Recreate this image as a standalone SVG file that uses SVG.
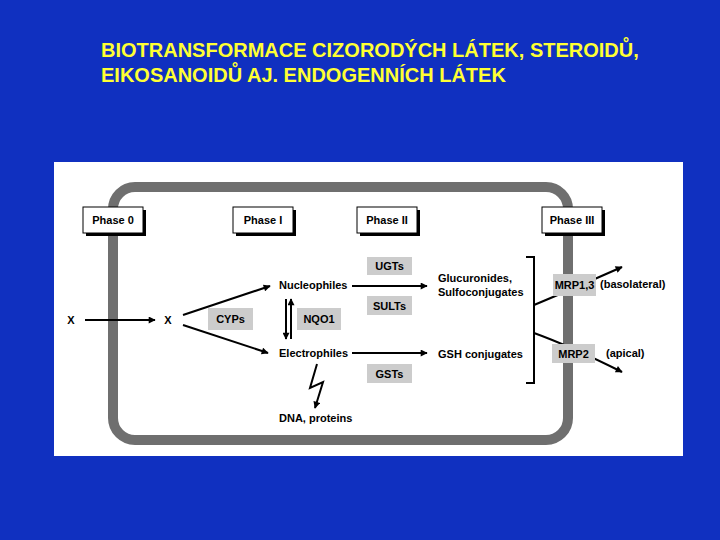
<svg xmlns="http://www.w3.org/2000/svg" width="720" height="540" viewBox="0 0 720 540">
<defs>
<marker id="ah" viewBox="0 0 10 10" refX="9" refY="5" markerWidth="8" markerHeight="7" markerUnits="userSpaceOnUse" orient="auto">
<path d="M0,0 L10,5 L0,10 z" fill="#000"/>
</marker>
<style>
.title{font-family:"Liberation Sans",Arial,sans-serif;font-weight:bold;font-size:20px;fill:#ffff33}
.t{font-family:"Liberation Sans",Arial,sans-serif;font-weight:bold;font-size:11px;fill:#000}
.c{text-anchor:middle}
.ph{fill:#fff;stroke:#000;stroke-width:1}
.sh{fill:#000}
.lb{fill:#cccccc}
.ln{stroke:#000;stroke-width:2;fill:none}
</style>
</defs>
<rect x="0" y="0" width="720" height="540" fill="#1030c0"/>
<text class="title" x="101" y="57">BIOTRANSFORMACE CIZORODÝCH LÁTEK, STEROIDŮ,</text>
<text class="title" x="101" y="82">EIKOSANOIDŮ AJ. ENDOGENNÍCH LÁTEK</text>
<rect x="54" y="162" width="629" height="294" fill="#fff"/>
<rect id="cell" x="113" y="187" width="455" height="253" rx="22" fill="none" stroke="#6f6f6f" stroke-width="10"/>
<g id="connectors">
<line class="ln" x1="85" y1="320" x2="155" y2="320" marker-end="url(#ah)"/>
<line class="ln" x1="183" y1="315" x2="270" y2="286" stroke-width="2.5" marker-end="url(#ah)"/>
<line class="ln" x1="183" y1="325" x2="268" y2="353" stroke-width="2.5" marker-end="url(#ah)"/>
<line class="ln" x1="286" y1="299" x2="286" y2="339" stroke-width="1.5" marker-end="url(#ah)"/>
<line class="ln" x1="291" y1="339" x2="291" y2="299" stroke-width="1.5" marker-end="url(#ah)"/>
<polyline class="ln" points="317,364 310,388 323,382 315,408" marker-end="url(#ah)"/>
<line class="ln" x1="352" y1="286" x2="427" y2="286" marker-end="url(#ah)"/>
<line class="ln" x1="352" y1="353" x2="427" y2="353" marker-end="url(#ah)"/>
<path class="ln" d="M526,257 H534 V383 H526" stroke-width="2.5"/>
<path class="ln" d="M534,305 Q570,290 622,267" marker-end="url(#ah)"/>
<path class="ln" d="M534,333 Q570,346 622,372" marker-end="url(#ah)"/>
</g>
<g id="phase0"><rect class="sh" x="86" y="210" width="60" height="26"/><rect class="ph" x="83" y="207" width="60" height="26"/><text class="t c" x="113" y="224">Phase 0</text></g>
<g id="phase1"><rect class="sh" x="236" y="210" width="60" height="26"/><rect class="ph" x="233" y="207" width="60" height="26"/><text class="t c" x="263" y="224">Phase I</text></g>
<g id="phase2"><rect class="sh" x="360" y="210" width="60" height="26"/><rect class="ph" x="357" y="207" width="60" height="26"/><text class="t c" x="387" y="224">Phase II</text></g>
<g id="phase3"><rect class="sh" x="545" y="210" width="60" height="26"/><rect class="ph" x="542" y="207" width="60" height="26"/><text class="t c" x="572" y="224">Phase III</text></g>
<g id="x1"><text class="t c" x="71" y="324">X</text></g>
<g id="x2"><text class="t c" x="168" y="324">X</text></g>
<g id="cyps"><rect class="lb" x="208" y="308" width="45" height="22"/><text class="t c" x="230.5" y="323">CYPs</text></g>
<g id="nqo1"><rect class="lb" x="297" y="308" width="44" height="22"/><text class="t c" x="319" y="323">NQO1</text></g>
<g id="nucleophiles"><text class="t" x="279" y="289">Nucleophiles</text></g>
<g id="electrophiles"><text class="t" x="279" y="357">Electrophiles</text></g>
<g id="dna"><text class="t" x="279" y="422">DNA, proteins</text></g>
<g id="ugts"><rect class="lb" x="367" y="257" width="45" height="18"/><text class="t c" x="389.5" y="270">UGTs</text></g>
<g id="sults"><rect class="lb" x="367" y="296" width="45" height="19"/><text class="t c" x="389.5" y="310">SULTs</text></g>
<g id="gsts"><rect class="lb" x="367" y="364" width="45" height="19"/><text class="t c" x="389.5" y="378">GSTs</text></g>
<g id="glucuronides"><text class="t" x="438" y="282">Glucuronides,</text><text class="t" x="438" y="296">Sulfoconjugates</text></g>
<g id="gsh"><text class="t" x="438" y="358">GSH conjugates</text></g>
<g id="mrp13"><rect class="lb" x="553" y="274" width="43" height="22"/><text class="t c" x="574.5" y="289">MRP1,3</text></g>
<g id="mrp2"><rect class="lb" x="552" y="344" width="43" height="19"/><text class="t c" x="573.5" y="358">MRP2</text></g>
<g id="basolateral"><text class="t" x="600" y="288">(basolateral)</text></g>
<g id="apical"><text class="t" x="606" y="357">(apical)</text></g>
</svg>
